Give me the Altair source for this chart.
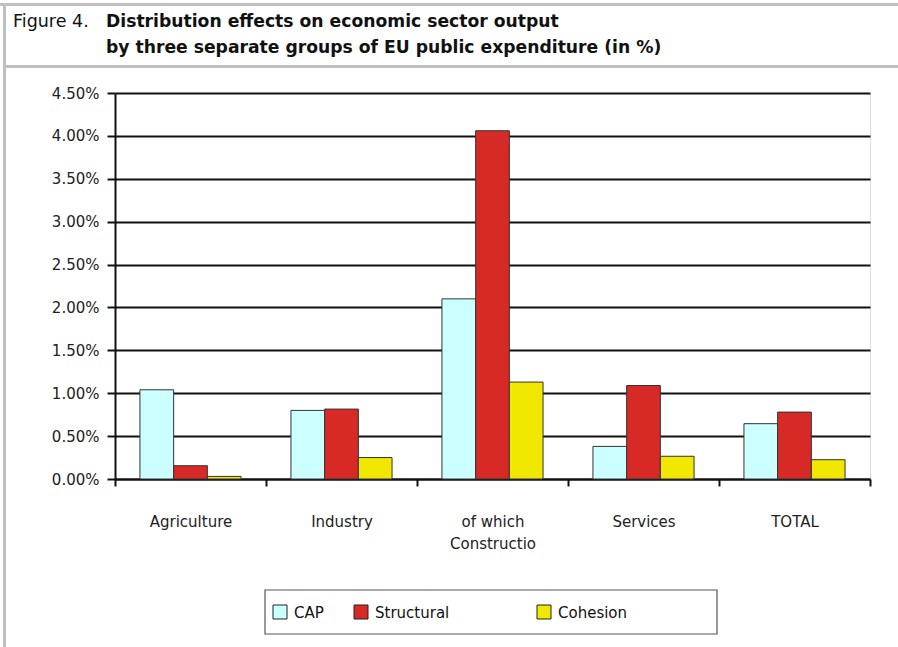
import altair as alt
import pandas as pd

categories = ["Agriculture", "Industry", "of which\nConstructio", "Services", "TOTAL"]
series = ["CAP", "Structural", "Cohesion"]
cap = [1.04, 0.80, 2.10, 0.38, 0.645]
structural = [0.155, 0.815, 4.06, 1.09, 0.78]
cohesion = [0.03, 0.25, 1.13, 0.265, 0.225]
y_ticks = [0.0, 0.5, 1.0, 1.5, 2.0, 2.5, 3.0, 3.5, 4.0, 4.5]
colors = ["#ccffff", "#d72a26", "#f0e800"]

title_prefix = "Figure 4."
title_line1 = "Distribution effects on economic sector output"
title_line2 = "by three separate groups of EU public expenditure (in %)"

rows = []
for name, vals in zip(series, [cap, structural, cohesion]):
    for c, v in zip(categories, vals):
        rows.append({"category": c, "series": name, "value": v})
df = pd.DataFrame(rows)

W, H = 755, 386
FONT = "DejaVu Sans"
one = pd.DataFrame({"d": [0]})

bars = alt.Chart(df).mark_bar(stroke="#333333", strokeWidth=1).encode(
    x=alt.X("category:N", sort=categories, title=None,
            scale=alt.Scale(paddingInner=0, paddingOuter=0),
            axis=alt.Axis(tickBand="extent", labelAngle=0, labelFont=FONT, labelFontSize=15,
                          labelColor="#222222", labelPadding=28, tickSize=7, tickColor="#111111",
                          tickWidth=2, domainColor="#111111", domainWidth=2, grid=False,
                          labelBaseline="top", labelLineHeight=22,
                          labelExpr="split(datum.label, '\\n')")),
    xOffset=alt.XOffset("series:N", sort=series,
                        scale=alt.Scale(paddingInner=0, paddingOuter=0.74)),
    y=alt.Y("value:Q", title=None,
            scale=alt.Scale(domain=[0, 4.5], nice=False),
            axis=alt.Axis(values=y_ticks, labelExpr="format(datum.value, '.2f') + '%'",
                          labelFont=FONT, labelFontSize=15, labelColor="#222222",
                          labelPadding=8, tickSize=8, tickColor="#111111", tickWidth=2,
                          domainColor="#111111", domainWidth=2,
                          grid=True, gridColor="#111111", gridWidth=2)),
    color=alt.Color("series:N", sort=series, legend=None,
                    scale=alt.Scale(domain=series, range=colors)),
)

def rect(x, x2, y, y2, fill, stroke=None, sw=0):
    kw = dict(fill=fill)
    if stroke:
        kw.update(stroke=stroke, strokeWidth=sw)
    return alt.Chart(one).mark_rect(**kw).encode(
        x=alt.value(x), x2=alt.value(x2), y=alt.value(y), y2=alt.value(y2))

def text(t, x, y, size=15, bold=False, font=FONT, align="left"):
    return alt.Chart(one).mark_text(
        text=t, align=align, baseline="middle", font=font, fontSize=size,
        fontWeight="bold" if bold else "normal", color="#111111").encode(
        x=alt.value(x), y=alt.value(y))

frames = [
    rect(-115, W + 28, -90, -87, "#c0c0c0"),
    rect(-112, -109, -90, H + 168, "#c0c0c0"),
    rect(-112, W + 28, -28, -25, "#c0c0c0"),
]

titles = [
    text(title_prefix, -102, -71, size=17.5),
    text(title_line1, -9, -71, size=17.2, bold=True),
    text(title_line2, -9, -45, size=17.2, bold=True),
]

legend_box = rect(150, 602, 497, 541, "white", stroke="#555555", sw=1.2)
legend_x = [158, 239, 422]
legend_items = []
for name, col, lx in zip(series, colors, legend_x):
    legend_items.append(rect(lx, lx + 14, 512, 526, col, stroke="#222222", sw=1))
    legend_items.append(text(name, lx + 21, 520, size=15))

chart = alt.layer(*frames, *titles, bars, legend_box, *legend_items).properties(
    width=W, height=H,
    autosize=alt.AutoSizeParams(type="none"),
    padding={"left": 115, "top": 93, "right": 28, "bottom": 168},
).configure_view(stroke="#888888", strokeWidth=2).configure(background="white")

chart.save("out.html", embed_options={"renderer": "svg", "actions": False})
